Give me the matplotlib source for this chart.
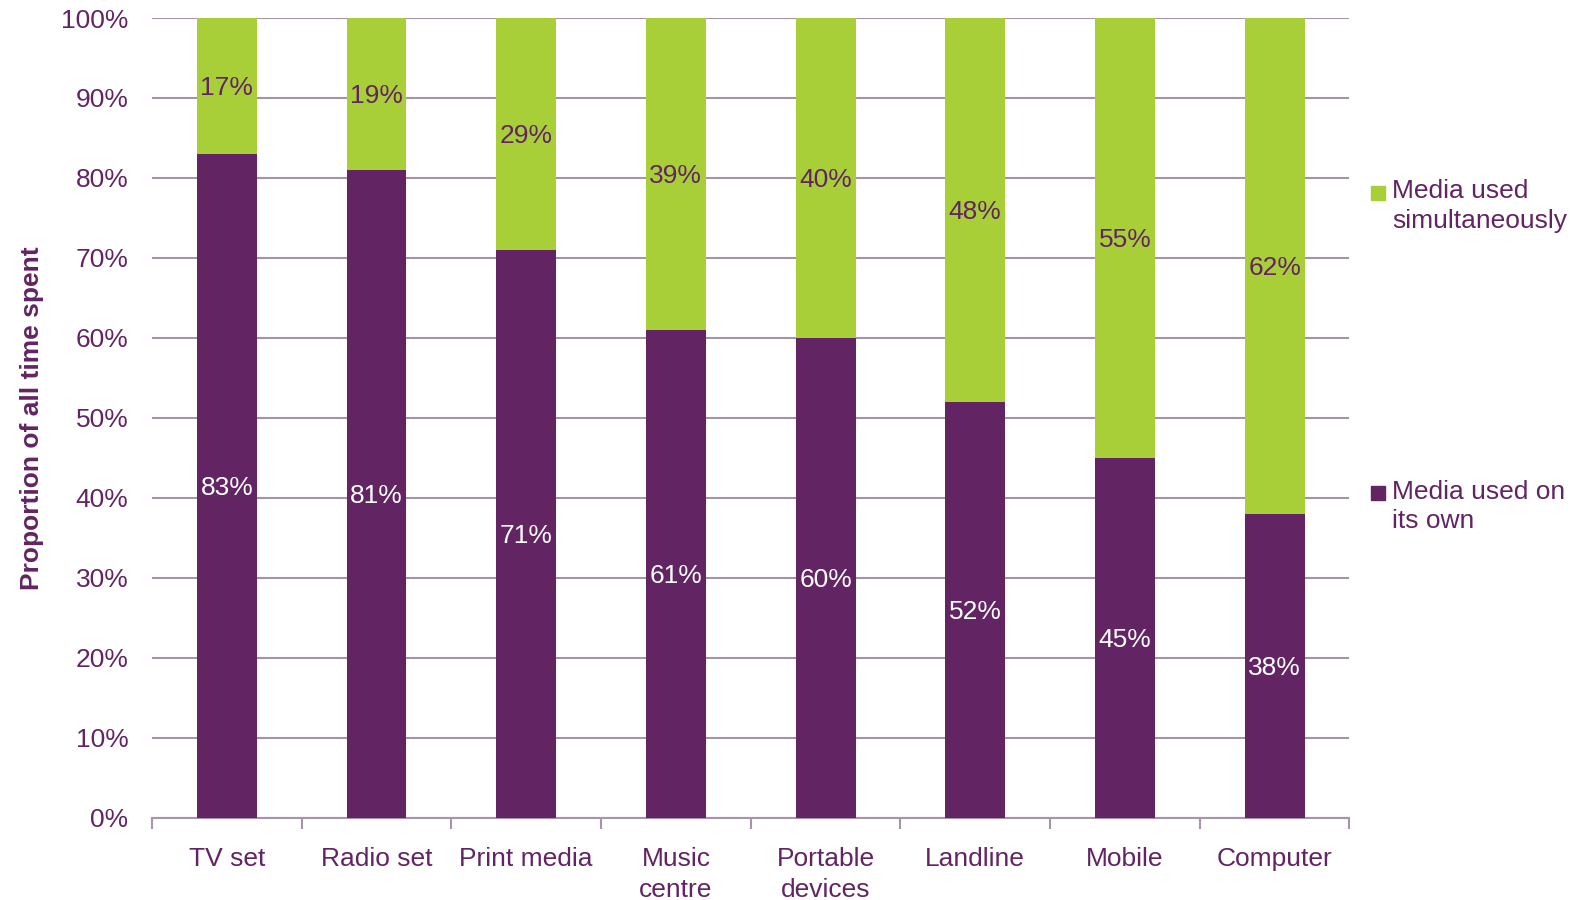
import matplotlib
matplotlib.use("Agg")
import matplotlib.pyplot as plt
from matplotlib.patches import Rectangle
import numpy as np

plt.rcParams["font.family"] = ["Liberation Sans", "DejaVu Sans"]

categories = ["TV set", "Radio set", "Print media", "Music\ncentre",
              "Portable\ndevices", "Landline", "Mobile", "Computer"]
own = [83, 81, 71, 61, 60, 52, 45, 38]
simultaneous = [17, 19, 29, 39, 40, 48, 55, 62]
series_names = ["Media used\nsimultaneously", "Media used on\nits own"]

PURPLE = "#622463"
GREEN = "#A9CF38"
GRID = "#A794A8"
FS = 19

fig = plt.figure(figsize=(15.79, 9.0), dpi=100)
ax = fig.add_axes([0.0963, 0.0915, 0.7583, 0.8885])

x = np.arange(len(categories))
w = 0.4
ax.bar(x, own, w, color=PURPLE, zorder=3)
ax.bar(x, simultaneous, w, bottom=own, color=GREEN, zorder=3)

for i in range(len(categories)):
    ax.text(x[i], own[i] / 2, f"{own[i]}%", ha="center", va="center_baseline",
            color="white", fontsize=FS, zorder=4)
    ax.text(x[i], own[i] + simultaneous[i] / 2, f"{simultaneous[i]}%",
            ha="center", va="center_baseline", color=PURPLE, fontsize=FS, zorder=4)

ax.set_xlim(-0.5, len(categories) - 0.5)
ax.set_ylim(0, 100)
ax.set_yticks(range(0, 101, 10))
ax.set_yticklabels([f"{v}%" for v in range(0, 101, 10)])
ax.yaxis.grid(True, color=GRID, lw=1.5, zorder=0)
ax.tick_params(axis="y", length=0, pad=17, labelsize=FS, labelcolor=PURPLE)

ax.set_xticks(x)
ax.set_xticklabels(categories, linespacing=1.4)
ax.set_xticks(np.arange(-0.5, len(categories)), minor=True)
ax.tick_params(axis="x", which="major", length=0, pad=21, labelsize=FS,
               labelcolor=PURPLE)
ax.tick_params(axis="x", which="minor", length=8, width=1.5, color=GRID)

for s in ["top", "right", "left"]:
    ax.spines[s].set_visible(False)
ax.spines["bottom"].set_color(GRID)
ax.spines["bottom"].set_linewidth(1.5)

ax.set_ylabel("Proportion of all time spent", fontsize=FS, fontweight="bold",
              color=PURPLE, labelpad=12)

# legend drawn by hand to keep the wide vertical spacing
for name, col, ytop in [(series_names[0], GREEN, 0.801), (series_names[1], PURPLE, 0.467)]:
    fig.patches.append(Rectangle((0.8685, ytop - 0.023), 0.0088, 0.0155,
                                 transform=fig.transFigure, color=col))
    fig.text(0.8815, ytop, name, fontsize=FS, color=PURPLE, va="top",
             linespacing=1.3)

fig.savefig("out.png", dpi=100)
